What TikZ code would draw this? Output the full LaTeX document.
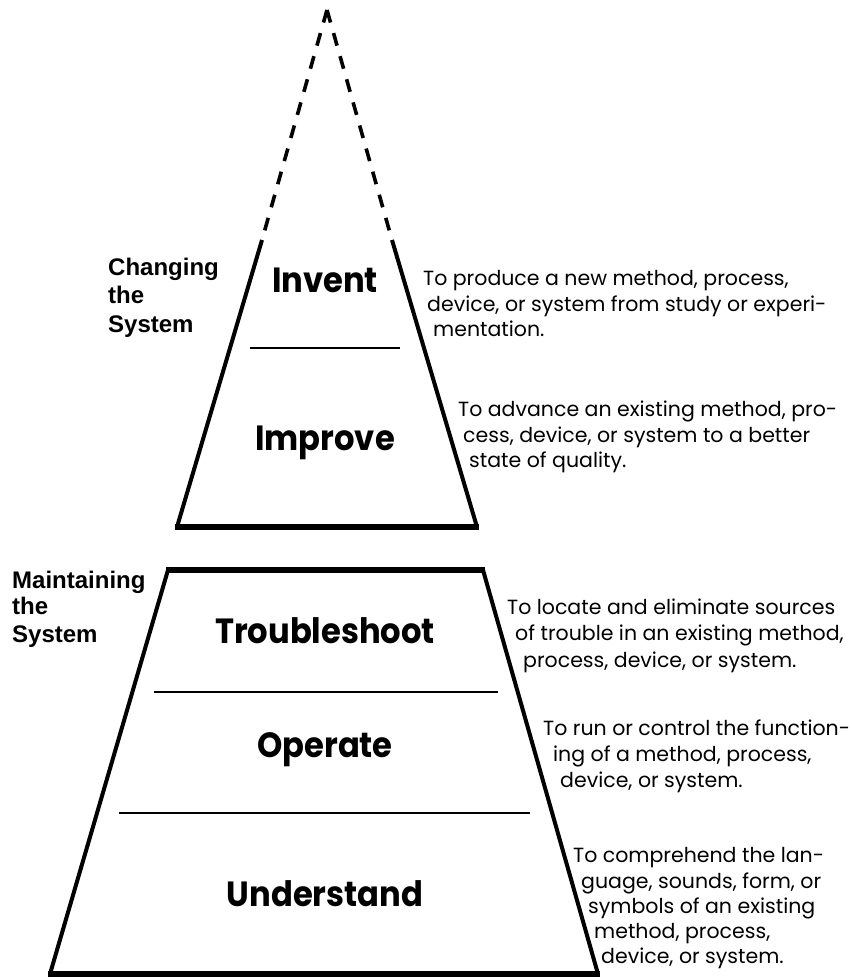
\documentclass[tikz,border=0pt]{standalone}
\usepackage{fontspec}
\setmainfont{Poppins}
\newfontfamily\labelfont{Liberation Sans}
\newcommand{\narrowlevel}[1]{\scalebox{0.92}[1]{#1}}
\begin{document}
\begin{tikzpicture}[x=1bp,y=-1bp,
  side/.style={line width=4bp},
  basebar/.style={line width=6bp},
  divider/.style={line width=2.8bp},
  dashside/.style={line width=3.6bp, dash pattern=on 13bp off 11bp},
  level/.style={font=\bfseries\fontsize{35bp}{38bp}\selectfont, anchor=center, inner sep=0pt},
  group/.style={font=\labelfont\bfseries\fontsize{24bp}{28bp}\selectfont, anchor=base west, inner sep=0pt},
  desc/.style={font=\fontsize{20.5bp}{26bp}\selectfont, anchor=base west, inner sep=0pt}]
\useasboundingbox (0,0) rectangle (852,977);

% corner points of the two pyramid parts
\coordinate (apex) at (327,10);
\coordinate (ul) at (262,240);
\coordinate (ur) at (392,240);
\coordinate (ubl) at (177,527);
\coordinate (ubr) at (477,527);
\coordinate (ltl) at (168,570);
\coordinate (ltr) at (483,570);
\coordinate (lbl) at (50,974);
\coordinate (lbr) at (598,974);
\coordinate (d1l) at (250,348);
\coordinate (d1r) at (400,348);
\coordinate (d2l) at (154,692);
\coordinate (d2r) at (498,692);
\coordinate (d3l) at (119,813);
\coordinate (d3r) at (530,813);

% open-ended top of the upper part
\draw[dashside] (apex) -- (ul);
\draw[dashside] (apex) -- (ur);

% upper part: changing the system
\draw[side] (ul) -- (ubl);
\draw[side] (ur) -- (ubr);
\draw[basebar] ([xshift=-2bp]ubl) -- ([xshift=2bp]ubr);
\draw[divider] (d1l) -- (d1r);

% lower part: maintaining the system
\draw[basebar] ([xshift=-2bp]ltl) -- ([xshift=2bp]ltr);
\draw[side] (ltl) -- (lbl);
\draw[side] (ltr) -- (lbr);
\draw[basebar] ([xshift=-2bp]lbl) -- ([xshift=2bp]lbr);
\draw[divider] (d2l) -- (d2r);
\draw[divider] (d3l) -- (d3r);

% level names
\node[level] (invent) at (325,280) {\narrowlevel{Invent}};
\node[level] (improve) at (325,443) {\narrowlevel{Improve}};
\node[level] (trouble) at (325,631) {\narrowlevel{Troubleshoot}};
\node[level] (operate) at (325,750) {\narrowlevel{Operate}};
\node[level] (understand) at (325,894) {\narrowlevel{Understand}};

% group names
\node[group] (chg1) at (108,275) {Changing};
\node[group] (chg2) at (108,303) {the};
\node[group] (chg3) at (108,332) {System};
\node[group] (mnt1) at (12,588) {Maintaining};
\node[group] (mnt2) at (12,614) {the};
\node[group] (mnt3) at (12,642) {System};

% definitions, each line stepped along the sloping side
\node[desc] (inv1) at (423,285) {To produce a new method, process,};
\node[desc] (inv2) at (427,311) {device, or system from study or experi-};
\node[desc] (inv3) at (433,336) {mentation.};

\node[desc] (imp1) at (458,416) {To advance an existing method, pro-};
\node[desc] (imp2) at (463,442) {cess, device, or system to a better};
\node[desc] (imp3) at (469,467) {state of quality.};

\node[desc] (tro1) at (507,614) {To locate and eliminate sources};
\node[desc] (tro2) at (515,640) {of trouble in an existing method,};
\node[desc] (tro3) at (523,667) {process, device, or system.};

\node[desc] (ope1) at (543,735) {To run or control the function-};
\node[desc] (ope2) at (553,761) {ing of a method, process,};
\node[desc] (ope3) at (560,787) {device, or system.};

\node[desc] (und1) at (573,862) {To comprehend the lan-};
\node[desc] (und2) at (581,888) {guage, sounds, form, or};
\node[desc] (und3) at (588,913) {symbols of an existing};
\node[desc] (und4) at (594,938) {method, process,};
\node[desc] (und5) at (601,963) {device, or system.};
\end{tikzpicture}
\end{document}
